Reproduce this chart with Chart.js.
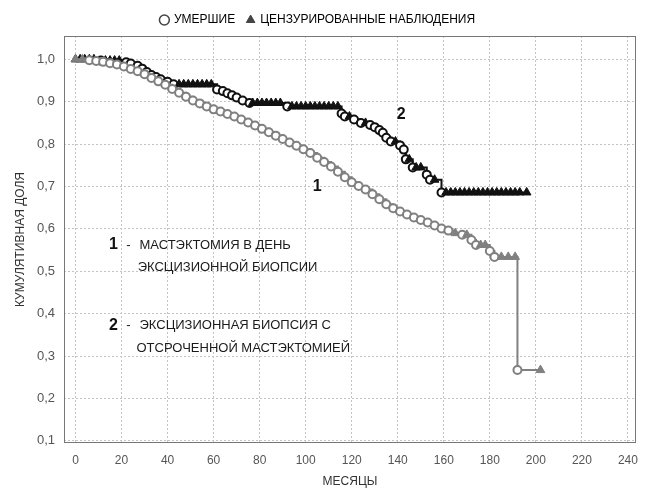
<!DOCTYPE html>
<html>
<head>
<meta charset="utf-8">
<script src="https://cdn.jsdelivr.net/npm/chart.js@4/dist/chart.umd.min.js"></script>
<style>
    html, body { margin: 0; padding: 0; background: #fff; }
</style>
</head>
<body>
<canvas id="kmChart" width="653" height="489"></canvas>
<script>
const xTicks = [0, 20, 40, 60, 80, 100, 120, 140, 160, 180, 200, 220, 240];
const yTicks = [0.1, 0.2, 0.3, 0.4, 0.5, 0.6, 0.7, 0.8, 0.9, 1.0];

// 1 - mastectomy on the day of excisional biopsy (grey); cens: 1 = censored, 0 = death
const g1Time = [0, 3, 6, 9, 12, 15, 18, 21, 24, 27, 30, 33, 36, 39, 42, 45, 48, 51, 54, 57,
    60, 63, 66, 69, 72, 75, 78, 81, 84, 87, 90, 93, 96, 99, 102, 105, 108, 111, 114, 117,
    120, 123, 126, 129, 132, 135, 138, 141, 144, 147, 150, 153, 156, 159, 162, 165, 168, 170,
    172, 174, 176, 178, 180, 182, 185, 188, 191, 192, 202];
const g1Surv = [1.0, 1.0, 0.998, 0.996, 0.994, 0.991, 0.988, 0.983, 0.977, 0.972, 0.965, 0.956, 0.948, 0.94, 0.93, 0.921, 0.912, 0.903, 0.896, 0.889,
    0.882, 0.877, 0.871, 0.865, 0.858, 0.851, 0.844, 0.836, 0.828, 0.82, 0.812, 0.804, 0.796, 0.788, 0.779, 0.768, 0.758, 0.747, 0.735, 0.722,
    0.71, 0.701, 0.693, 0.682, 0.67, 0.658, 0.649, 0.641, 0.634, 0.627, 0.621, 0.615, 0.608, 0.601, 0.596, 0.59, 0.586, 0.586,
    0.574, 0.562, 0.562, 0.562, 0.548, 0.534, 0.534, 0.534, 0.534, 0.267, 0.267];
const g1Cens = [1, 1, 0, 0, 0, 0, 0, 0, 0, 0, 0, 0, 0, 0, 0, 0, 0, 0, 0, 0,
    0, 0, 0, 0, 0, 0, 0, 0, 0, 0, 0, 0, 0, 0, 0, 0, 0, 0, 0, 0,
    0, 0, 0, 0, 0, 0, 0, 0, 0, 0, 0, 0, 0, 0, 0, 1, 0, 1,
    0, 0, 1, 1, 0, 0, 1, 1, 1, 0, 1];

// 2 - excisional biopsy with delayed mastectomy (black)
const g2Time = [0, 2, 4, 6, 8, 11, 13, 15, 17, 19, 22, 24, 27, 29, 31, 33, 35, 37, 40, 42.6,
    45, 47, 49, 51, 53, 55, 57, 59, 61.5, 64, 66, 68, 70, 72.6, 75.6, 77, 79, 81, 83, 85,
    87, 89, 92, 94, 96, 98, 100, 102, 104, 106, 108, 110, 112, 114, 115.6, 117, 119, 121, 124, 126,
    128, 130, 132, 133.5, 135, 137, 139, 141, 142.6, 143.5, 145, 146.5, 148, 150, 152.6, 154, 156, 159,
    161, 163, 165, 167, 169, 171, 173, 175, 177, 179, 181, 183, 185, 187, 189, 191, 193, 196];
const g2Surv = [1.0, 1.0, 1.0, 1.0, 1.0, 0.997, 0.997, 0.997, 0.997, 0.997, 0.993, 0.99, 0.985, 0.978, 0.97, 0.963, 0.958, 0.953, 0.947, 0.941,
    0.941, 0.941, 0.941, 0.941, 0.941, 0.941, 0.941, 0.941, 0.929, 0.925, 0.92, 0.915, 0.91, 0.903, 0.897, 0.897, 0.897, 0.897, 0.897, 0.897,
    0.897, 0.897, 0.889, 0.889, 0.889, 0.889, 0.889, 0.889, 0.889, 0.889, 0.889, 0.889, 0.889, 0.889, 0.872, 0.865, 0.865, 0.858, 0.85, 0.85,
    0.845, 0.84, 0.833, 0.827, 0.815, 0.806, 0.806, 0.797, 0.787, 0.764, 0.764, 0.745, 0.745, 0.745, 0.728, 0.716, 0.716, 0.686,
    0.686, 0.686, 0.686, 0.686, 0.686, 0.686, 0.686, 0.686, 0.686, 0.686, 0.686, 0.686, 0.686, 0.686, 0.686, 0.686, 0.686, 0.686];
const g2Cens = [1, 1, 1, 1, 1, 0, 1, 1, 1, 1, 0, 0, 0, 0, 0, 0, 0, 0, 0, 0,
    1, 1, 1, 1, 1, 1, 1, 1, 0, 0, 0, 0, 0, 0, 0, 1, 1, 1, 1, 1,
    1, 1, 0, 1, 1, 1, 1, 1, 1, 1, 1, 1, 1, 1, 0, 0, 1, 0, 0, 1,
    0, 0, 0, 0, 0, 0, 1, 0, 0, 0, 1, 0, 1, 1, 0, 0, 1, 0,
    1, 1, 1, 1, 1, 1, 1, 1, 1, 1, 1, 1, 1, 1, 1, 1, 1, 1];

const GREY = '#808080';
const DARK = '#111111';
const FONT = '"Liberation Sans", Arial, sans-serif';

function kmDataset(label, times, surv, cens, color) {
    return {
        label: label,
        data: times.map((t, i) => ({ x: t, y: surv[i] })),
        stepped: true,
        borderColor: color,
        borderWidth: 2,
        pointStyle: cens.map(c => c ? 'triangle' : 'circle'),
        pointRadius: cens.map(c => c ? 5 : 4),
        pointBackgroundColor: cens.map(c => c ? color : '#ffffff'),
        pointBorderColor: color,
        pointBorderWidth: cens.map(c => c ? 1 : 2),
        fill: false
    };
}

const notesPlugin = {
    id: 'notes',
    afterDraw(chart) {
        const { ctx, chartArea: a, scales: { x, y } } = chart;
        ctx.save();
        ctx.strokeStyle = '#777';
        ctx.lineWidth = 1;
        ctx.strokeRect(a.left + 0.5, a.top + 0.5, a.width - 1, a.height - 1);

        ctx.textBaseline = 'middle';
        ctx.fillStyle = '#111';
        ctx.font = 'bold 16px ' + FONT;
        ctx.textAlign = 'center';
        ctx.fillText('1', x.getPixelForValue(105), y.getPixelForValue(0.70));
        ctx.fillText('2', x.getPixelForValue(141.5), y.getPixelForValue(0.87));

        ctx.textAlign = 'left';
        ctx.fillText('1', x.getPixelForValue(14.5), y.getPixelForValue(0.562));
        ctx.fillText('2', x.getPixelForValue(14.5), y.getPixelForValue(0.373));

        ctx.fillStyle = '#1a1a1a';
        ctx.font = '13px ' + FONT;
        ctx.fillText('-', x.getPixelForValue(22), y.getPixelForValue(0.562));
        ctx.fillText('-', x.getPixelForValue(22), y.getPixelForValue(0.373));
        ctx.fillText('МАСТЭКТОМИЯ В ДЕНЬ', x.getPixelForValue(27.8), y.getPixelForValue(0.562));
        ctx.fillText('ЭКСЦИЗИОННОЙ БИОПСИИ', x.getPixelForValue(27), y.getPixelForValue(0.508));
        ctx.fillText('ЭКСЦИЗИОННАЯ БИОПСИЯ С', x.getPixelForValue(27.8), y.getPixelForValue(0.373));
        ctx.fillText('ОТСРОЧЕННОЙ МАСТЭКТОМИЕЙ', x.getPixelForValue(26.5), y.getPixelForValue(0.317));
        ctx.restore();
    }
};

const ctx = document.getElementById('kmChart').getContext('2d');

new Chart(ctx, {
    type: 'line',
    data: {
        datasets: [
            kmDataset('1', g1Time, g1Surv, g1Cens, GREY),
            kmDataset('2', g2Time, g2Surv, g2Cens, DARK)
        ]
    },
    options: {
        responsive: false,
        animation: false,
        devicePixelRatio: 1,
        layout: { padding: { left: 0, right: 17, top: 2, bottom: 0 } },
        plugins: {
            tooltip: { enabled: false },
            legend: {
                position: 'top',
                onClick: null,
                labels: {
                    usePointStyle: true,
                    boxWidth: 7,
                    boxHeight: 7,
                    padding: 12,
                    color: '#222',
                    font: { family: FONT, size: 12 },
                    generateLabels: () => [
                        { text: 'УМЕРШИЕ', pointStyle: 'circle', fillStyle: '#fff', strokeStyle: '#444', lineWidth: 1.5 },
                        { text: 'ЦЕНЗУРИРОВАННЫЕ НАБЛЮДЕНИЯ', pointStyle: 'triangle', fillStyle: '#444', strokeStyle: '#444', lineWidth: 1 }
                    ]
                }
            }
        },
        scales: {
            x: {
                type: 'linear',
                min: -5,
                max: 243.5,
                afterBuildTicks: s => { s.ticks = xTicks.map(v => ({ value: v })); },
                afterFit: s => { s.height = 46; },
                grid: { color: '#c4c4c4', drawTicks: false },
                border: { display: false, dash: [2, 2] },
                ticks: {
                    padding: 10,
                    color: '#555',
                    font: { family: FONT, size: 12 }
                },
                title: {
                    display: true,
                    text: 'МЕСЯЦЫ',
                    color: '#333',
                    padding: { top: 0, bottom: 0 },
                    font: { family: FONT, size: 12 }
                }
            },
            y: {
                type: 'linear',
                min: 0.095,
                max: 1.055,
                afterBuildTicks: s => { s.ticks = yTicks.map(v => ({ value: v })); },
                afterFit: s => { s.width = 64; },
                grid: { color: '#c4c4c4', drawTicks: false },
                border: { display: false, dash: [2, 2] },
                ticks: {
                    padding: 9,
                    color: '#555',
                    font: { family: FONT, size: 13 },
                    callback: v => v.toFixed(1).replace('.', ',')
                },
                title: {
                    display: true,
                    text: 'КУМУЛЯТИВНАЯ ДОЛЯ',
                    color: '#333',
                    padding: { top: 13, bottom: 0 },
                    font: { family: FONT, size: 12 }
                }
            }
        }
    },
    plugins: [notesPlugin]
});
</script>
</body>
</html>
